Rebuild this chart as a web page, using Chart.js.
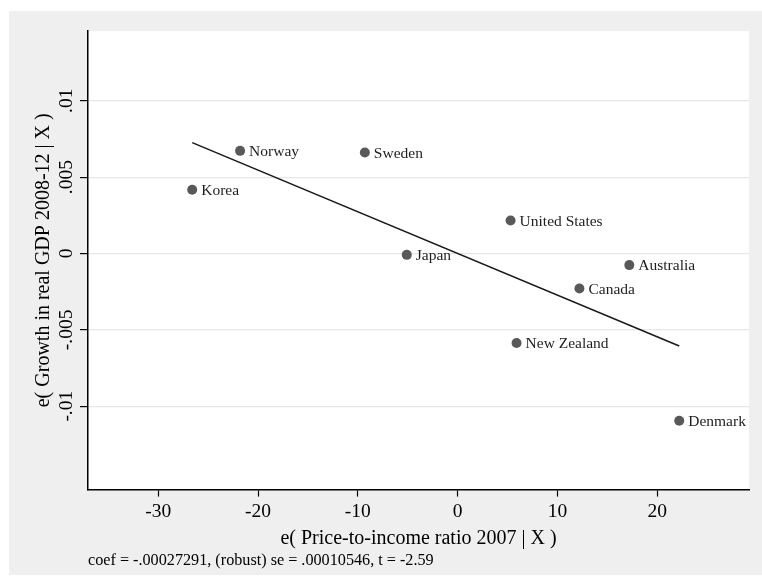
<!DOCTYPE html>
<html>
<head>
<meta charset="utf-8">
<title>Added-variable plot</title>
<script src="https://cdn.jsdelivr.net/npm/chart.js@4.4.1/dist/chart.umd.min.js"></script>
<style>
    html, body { margin: 0; padding: 0; background: #ffffff; }
    #panel {
        position: absolute;
        left: 9px;
        top: 11px;
        width: 753px;
        height: 564px;
        background: #efefef;
    }
    canvas { display: block; }
</style>
</head>
<body>
<div id="panel"><canvas id="avplot" width="753" height="564"></canvas></div>
<script>
// Residuals after partialling out the other regressors
const countries = ['Korea', 'Norway', 'Sweden', 'Japan', 'United States', 'Australia', 'Canada', 'New Zealand', 'Denmark'];
const priceResid = [-26.6, -21.8, -9.3, -5.1, 5.3, 17.2, 12.2, 5.9, 22.2];
const growthResid = [0.00417, 0.00672, 0.00661, -0.00009, 0.00216, -0.00076, -0.00229, -0.00586, -0.01095];

// Regression results printed under the plot
const coef = -0.00027291;
const robustSe = 0.00010546;
const tStat = -2.59;

const xTicks = [-30, -20, -10, 0, 10, 20];
const yTicks = [-0.01, -0.005, 0, 0.005, 0.01];
const yTickLabels = ['-.01', '-.005', '0', '.005', '.01'];

const serif = 'Liberation Serif';

// Stata-style number: drop the leading zero
function stataNum(v) {
    return String(v).replace(/^(-?)0\./, '$1.');
}

// fitted line runs over the range of the data, through the origin
const xMin = Math.min(...priceResid);
const xMax = Math.max(...priceResid);
const fitLine = [
    { x: xMin, y: coef * xMin },
    { x: xMax, y: coef * xMax }
];

const points = priceResid.map((x, i) => ({ x: x, y: growthResid[i] }));

// white plot region
const plotBackground = {
    id: 'plotBackground',
    beforeDraw(chart) {
        const { ctx, chartArea } = chart;
        ctx.save();
        ctx.fillStyle = '#ffffff';
        ctx.fillRect(chartArea.left, chartArea.top, chartArea.right - chartArea.left, chartArea.bottom - chartArea.top);
        ctx.restore();
    }
};

// vertical tick labels on the y axis
const rotatedYTicks = {
    id: 'rotatedYTicks',
    afterDraw(chart) {
        const { ctx } = chart;
        const scale = chart.scales.y;
        ctx.save();
        ctx.fillStyle = '#000000';
        ctx.font = '19.5px "' + serif + '"';
        ctx.textAlign = 'center';
        ctx.textBaseline = 'alphabetic';
        yTicks.forEach((v, i) => {
            const py = scale.getPixelForValue(v);
            ctx.save();
            ctx.translate(scale.right - 16, py);
            ctx.rotate(-Math.PI / 2);
            ctx.fillText(yTickLabels[i], 0, 0);
            ctx.restore();
        });
        ctx.restore();
    }
};

// country names next to each marker
const markerLabels = {
    id: 'markerLabels',
    afterDatasetsDraw(chart) {
        const { ctx } = chart;
        const meta = chart.getDatasetMeta(0);
        ctx.save();
        ctx.fillStyle = '#1e1e1e';
        ctx.font = '15.5px "' + serif + '"';
        ctx.textAlign = 'left';
        ctx.textBaseline = 'middle';
        meta.data.forEach((pt, i) => {
            ctx.fillText(countries[i], pt.x + 9, pt.y + 1);
        });
        ctx.restore();
    }
};

const ctx = document.getElementById('avplot').getContext('2d');

new Chart(ctx, {
    type: 'scatter',
    data: {
        datasets: [{
            label: 'residuals',
            data: points,
            backgroundColor: '#595959',
            borderColor: '#595959',
            borderWidth: 0,
            pointRadius: 5,
            pointHoverRadius: 5
        }, {
            type: 'line',
            label: 'fit',
            data: fitLine,
            borderColor: '#1a1a1a',
            borderWidth: 1.6,
            pointRadius: 0,
            fill: false
        }]
    },
    options: {
        responsive: false,
        animation: false,
        events: [],
        layout: {
            padding: { left: 0, right: 13, top: 20, bottom: 5 }
        },
        scales: {
            x: {
                type: 'linear',
                min: -37.04,
                max: 29.19,
                afterBuildTicks(scale) {
                    scale.ticks = xTicks.map(v => ({ value: v }));
                },
                afterFit(scale) {
                    scale.height = 61;
                },
                border: { display: true, color: '#000000', width: 1.5 },
                grid: {
                    drawOnChartArea: false,
                    drawTicks: true,
                    tickLength: 7,
                    tickColor: '#000000',
                    tickWidth: 1.2
                },
                ticks: {
                    color: '#000000',
                    padding: 4,
                    maxRotation: 0,
                    font: { family: serif, size: 19.5 },
                    callback: v => String(v)
                },
                title: {
                    display: true,
                    text: 'e( Price-to-income ratio 2007 | X )',
                    color: '#000000',
                    padding: { top: 0, bottom: 0 },
                    font: { family: serif, size: 20 }
                }
            },
            y: {
                type: 'linear',
                min: -0.01546,
                max: 0.01457,
                afterBuildTicks(scale) {
                    scale.ticks = yTicks.map(v => ({ value: v }));
                },
                afterFit(scale) {
                    scale.width = 79;
                },
                border: { display: true, color: '#000000', width: 1.5 },
                grid: {
                    color: '#e6e6e6',
                    lineWidth: 1.2,
                    drawTicks: true,
                    tickLength: 8,
                    tickColor: '#000000',
                    tickWidth: 1.2
                },
                ticks: {
                    display: false
                },
                title: {
                    display: true,
                    text: 'e( Growth in real GDP 2008-12 | X )',
                    color: '#000000',
                    padding: { top: 23, bottom: 0 },
                    font: { family: serif, size: 20 }
                }
            }
        },
        plugins: {
            legend: { display: false },
            tooltip: { enabled: false },
            subtitle: {
                display: true,
                position: 'bottom',
                align: 'start',
                fullSize: false,
                text: 'coef = ' + stataNum(coef) + ', (robust) se = ' + stataNum(robustSe) + ', t = ' + tStat,
                color: '#000000',
                padding: { top: 0, bottom: 0 },
                font: { family: serif, size: 16.2, weight: 'normal' }
            }
        }
    },
    plugins: [plotBackground, rotatedYTicks, markerLabels]
});
</script>
</body>
</html>
